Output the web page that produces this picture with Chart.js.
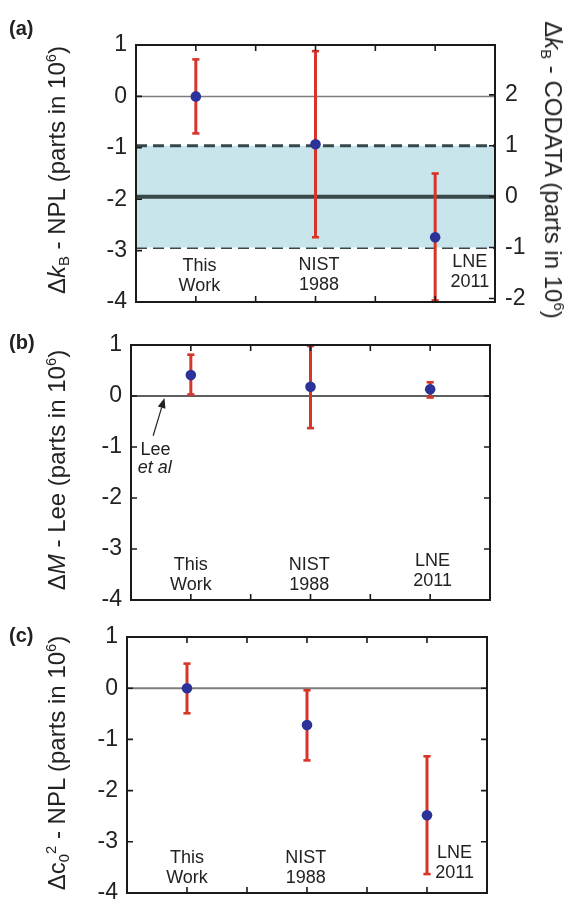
<!DOCTYPE html>
<html>
<head>
<meta charset="utf-8">
<script src="https://cdn.jsdelivr.net/npm/chart.js@4.4.1/dist/chart.umd.min.js"></script>
<style>
  body { margin: 0; background: #fff; }
  #wrap { position: relative; width: 569px; height: 902px; overflow: hidden;
          font-family: 'Liberation Sans', Arial, sans-serif; color: #222; }
  canvas { position: absolute; left: 0; }
  .tag { position: absolute; left: 9px; font-weight: bold; font-size: 20px; line-height: 1; }
  .ytitle { position: absolute; white-space: nowrap; font-size: 24px; line-height: 1;
            transform: translate(-50%, -50%) rotate(-90deg); }
  .ytitle.r { transform: translate(-50%, -50%) rotate(90deg); }
  sub, sup { font-size: 0.62em; line-height: 0; }
  sub { vertical-align: -0.3em; }
  sup { vertical-align: 0.6em; }
</style>
</head>
<body>
<div id="wrap">
  <canvas id="chartA" width="569" height="320" style="top:0"></canvas>
  <canvas id="chartB" width="569" height="300" style="top:320px"></canvas>
  <canvas id="chartC" width="569" height="292" style="top:610px"></canvas>

  <div class="tag" style="top:18px">(a)</div>
  <div class="tag" style="top:332px">(b)</div>
  <div class="tag" style="top:625px">(c)</div>

  <div class="ytitle" style="left:57px;top:170px">Δ<i>k</i><sub>B</sub> - NPL (parts in 10<sup>6</sup>)</div>
  <div class="ytitle r" style="left:553px;top:170px">Δ<i>k</i><sub>B</sub> - CODATA (parts in 10<sup>6</sup>)</div>
  <div class="ytitle" style="left:57px;top:470px">Δ<i>M</i> - Lee (parts in 10<sup>6</sup>)</div>
  <div class="ytitle" style="left:57px;top:763px">Δc<sub>0</sub><sup>2</sup> - NPL (parts in 10<sup>6</sup>)</div>
</div>

<script>
// x positions of the three measurements
const xPos = [1, 2, 3];
const categories = [['This', 'Work'], ['NIST', '1988'], ['LNE', '2011']];

// (a) Boltzmann constant relative to NPL
const kbValues = [0, -0.93, -2.74];
const kbLower = [-0.72, -2.74, -3.97];
const kbUpper = [0.72, 0.88, -1.50];
// CODATA value and its +/- 1 band, on the right axis
const codataCenter = 0;
const codataBand = [1, -1];

// (b) molar mass relative to Lee et al
const mValues = [0.41, 0.18, 0.13];
const mLower = [0.03, -0.63, -0.03];
const mUpper = [0.81, 0.98, 0.27];

// (c) speed of sound squared relative to NPL
const c0Values = [0, -0.72, -2.48];
const c0Lower = [-0.49, -1.41, -3.63];
const c0Upper = [0.48, -0.04, -1.33];

// tick values
const leftTicks = [-4, -3, -2, -1, 0, 1];
const rightTicks = [-2, -1, 0, 1, 2];
const xTicks = [1, 1.5, 2, 2.5, 3];

const FONT = "'Liberation Sans', Arial, sans-serif";
const RED = '#d8352a';
const BLUE = '#2b3398';
const DARK = '#38484a';

function errorBars(lo, hi) {
    const d = [];
    xPos.forEach((x, i) => {
        d.push({ x: x, y: lo[i] }, { x: x, y: hi[i] }, { x: x, y: null });
    });
    return d;
}

function hLine(y) {
    return [{ x: 0.5, y: y }, { x: 3.5, y: y }];
}

// frame around the plot and inward tick marks
const frameTicks = {
    id: 'frameTicks',
    afterDatasetsDraw(chart) {
        const { ctx, chartArea: a, scales } = chart;
        const len = 6;
        ctx.save();
        ctx.strokeStyle = '#1a1a1a';
        ctx.lineWidth = 1.6;
        ctx.beginPath();
        xTicks.forEach(v => {
            const px = scales.x.getPixelForValue(v);
            ctx.moveTo(px, a.top); ctx.lineTo(px, a.top + len);
            ctx.moveTo(px, a.bottom); ctx.lineTo(px, a.bottom - len);
        });
        leftTicks.forEach(v => {
            const py = scales.y.getPixelForValue(v);
            ctx.moveTo(a.left, py); ctx.lineTo(a.left + len, py);
            if (!scales.y2) { ctx.moveTo(a.right, py); ctx.lineTo(a.right - len, py); }
        });
        if (scales.y2) {
            rightTicks.forEach(v => {
                const py = scales.y2.getPixelForValue(v);
                ctx.moveTo(a.right, py); ctx.lineTo(a.right - len, py);
            });
        }
        ctx.stroke();
        ctx.lineWidth = 2;
        ctx.strokeRect(a.left, a.top, a.right - a.left, a.bottom - a.top);
        ctx.restore();
    }
};

// text labels and arrow inside the plots
const notes = {
    id: 'notes',
    afterDatasetsDraw(chart, args, opts) {
        const { ctx, scales } = chart;
        ctx.save();
        ctx.fillStyle = '#222';
        ctx.textBaseline = 'middle';
        (opts.items || []).forEach(n => {
            ctx.font = (n.italic ? 'italic ' : '') + '18px ' + FONT;
            ctx.textAlign = n.align || 'center';
            const px = scales.x.getPixelForValue(n.x);
            const py = scales.y.getPixelForValue(n.y);
            n.lines.forEach((t, k) => ctx.fillText(t, px, py + k * 20));
        });
        if (opts.arrow) {
            const ar = opts.arrow;
            const x0 = scales.x.getPixelForValue(ar.from[0]), y0 = scales.y.getPixelForValue(ar.from[1]);
            const x1 = scales.x.getPixelForValue(ar.to[0]), y1 = scales.y.getPixelForValue(ar.to[1]);
            const ang = Math.atan2(y1 - y0, x1 - x0);
            const hl = 10, hw = 4;
            ctx.strokeStyle = '#222';
            ctx.lineWidth = 1.2;
            ctx.beginPath();
            ctx.moveTo(x0, y0);
            ctx.lineTo(x1 - hl * Math.cos(ang), y1 - hl * Math.sin(ang));
            ctx.stroke();
            ctx.beginPath();
            ctx.moveTo(x1, y1);
            ctx.lineTo(x1 - hl * Math.cos(ang) + hw * Math.sin(ang), y1 - hl * Math.sin(ang) - hw * Math.cos(ang));
            ctx.lineTo(x1 - hl * Math.cos(ang) - hw * Math.sin(ang), y1 - hl * Math.sin(ang) + hw * Math.cos(ang));
            ctx.closePath();
            ctx.fill();
        }
        ctx.restore();
    }
};

function makeYAxis(position, min, max, ticks, width, pad) {
    return {
        type: 'linear',
        position: position,
        min: min,
        max: max,
        grid: { display: false, drawTicks: false },
        border: { display: false },
        afterBuildTicks: s => { s.ticks = ticks.map(v => ({ value: v })); },
        ticks: { font: { size: 23, family: FONT }, color: '#222', padding: pad },
        afterFit: s => { s.width = width; s.paddingTop = 0; s.paddingBottom = 0; }
    };
}

function makePanel(id, p) {
    const datasets = [
        {
            data: xPos.map((x, i) => ({ x: x, y: p.values[i] })),
            showLine: false,
            pointRadius: 5.3,
            pointBackgroundColor: BLUE,
            pointBorderWidth: 0,
            order: 0
        },
        {
            data: errorBars(p.lower, p.upper),
            showLine: true,
            spanGaps: false,
            borderColor: RED,
            borderWidth: 3,
            pointStyle: 'line',
            pointRadius: 3.6,
            pointBorderColor: RED,
            pointBorderWidth: 2.6,
            order: 1
        },
        {
            data: hLine(0),
            borderColor: p.zeroColor,
            borderWidth: p.zeroWidth,
            pointRadius: 0,
            order: 2
        }
    ].concat(p.extra || []);

    const scales = {
        x: { type: 'linear', min: 0.5, max: 3.5, display: false },
        y: makeYAxis('left', -4, 1, leftTicks, p.leftWidth, 9)
    };
    if (p.right) scales.y2 = makeYAxis('right', p.right.min, p.right.max, rightTicks, p.right.width, 10);

    return new Chart(document.getElementById(id), {
        type: 'line',
        data: { datasets: datasets },
        options: {
            responsive: false,
            animation: false,
            devicePixelRatio: 1,
            layout: { padding: p.padding },
            elements: { line: { tension: 0 } },
            scales: scales,
            plugins: {
                legend: { display: false },
                tooltip: { enabled: false },
                notes: p.notes
            }
        },
        plugins: [frameTicks, notes]
    });
}

function catNotes(xs, ys, aligns) {
    return categories.map((lines, i) => ({ lines: lines, x: xs[i], y: ys[i], align: aligns ? aligns[i] : 'center' }));
}

// (a)
makePanel('chartA', {
    values: kbValues, lower: kbLower, upper: kbUpper,
    zeroColor: '#7d7d7d', zeroWidth: 1.5,
    leftWidth: 136,
    right: { min: -2.07, max: 2.98, width: 74 },
    padding: { top: 45, bottom: 18, left: 0, right: 0 },
    extra: [
        { data: hLine(codataBand[0]), yAxisID: 'y2', borderColor: DARK, borderWidth: 2.8,
          borderDash: [11, 6], pointRadius: 0, fill: '+1', backgroundColor: '#c8e5ec', order: 3 },
        { data: hLine(codataBand[1]), yAxisID: 'y2', borderColor: DARK, borderWidth: 2.8,
          borderDash: [11, 6], pointRadius: 0, order: 3 },
        { data: hLine(codataCenter), yAxisID: 'y2', borderColor: DARK, borderWidth: 4,
          pointRadius: 0, order: 2 }
    ],
    notes: { items: catNotes([1.03, 2.03, 3.29], [-3.30, -3.28, -3.22]) }
});

// (b)
makePanel('chartB', {
    values: mValues, lower: mLower, upper: mUpper,
    zeroColor: '#2a2a2a', zeroWidth: 1.5,
    leftWidth: 131,
    padding: { top: 25, bottom: 20, left: 0, right: 79 },
    notes: {
        items: catNotes([1.0, 1.99, 3.02], [-3.31, -3.32, -3.24]).concat([
            { lines: ['Lee'], x: 0.58, y: -1.05, align: 'left' },
            { lines: ['et al'], x: 0.557, y: -1.42, align: 'left', italic: true }
        ]),
        arrow: { from: [0.685, -0.78], to: [0.78, -0.04] }
    }
});

// (c)
makePanel('chartC', {
    values: c0Values, lower: c0Lower, upper: c0Upper,
    zeroColor: '#7d7d7d', zeroWidth: 2,
    leftWidth: 127,
    padding: { top: 27, bottom: 9, left: 0, right: 82 },
    notes: { items: catNotes([1.0, 1.99, 3.23], [-3.32, -3.31, -3.21]) }
});
</script>
</body>
</html>
